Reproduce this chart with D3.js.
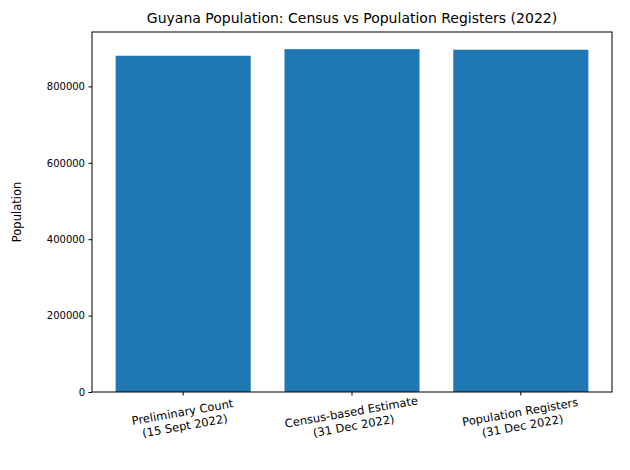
<!DOCTYPE html>
<html><head><meta charset="utf-8">
<script src="https://cdn.jsdelivr.net/npm/d3@7"></script>
<style>body{margin:0;background:#fff}text{font-family:"DejaVu Sans",sans-serif;}</style>
</head><body>
<svg id="c" width="630" height="470"></svg>
<script>
const categories = ["Preliminary Count\n(15 Sept 2022)", "Census-based Estimate\n(31 Dec 2022)", "Population Registers\n(31 Dec 2022)"];
const values = [880300, 897600, 896000];
const yTicks = [0, 200000, 400000, 600000, 800000];

const svg = d3.select("#c");
const L = 92, R = 612, T = 32, B = 392;
const x = d3.scaleBand().domain(categories).range([L, R]).paddingInner(0.2).paddingOuter(0.14);
const y = d3.scaleLinear().domain([0, d3.max(values) * 1.05]).range([B, T]);

svg.selectAll("rect.bar").data(values).enter().append("rect")
  .attr("x", (d, i) => x(categories[i])).attr("width", x.bandwidth())
  .attr("y", d => y(d)).attr("height", d => B - y(d)).attr("fill", "#1f77b4");

const ya = svg.append("g").attr("transform", `translate(${L},0)`)
  .call(d3.axisLeft(y).tickValues(yTicks).tickFormat(d3.format("d")).tickSizeOuter(0).tickSize(3.5).tickPadding(3.5));
ya.select(".domain").remove();
ya.selectAll("text").style("font-size", "10px").attr("fill", "#000");

const xa = svg.append("g").attr("transform", `translate(0,${B})`)
  .call(d3.axisBottom(x).tickSizeOuter(0).tickSize(3.5).tickFormat(""));
xa.select(".domain").remove();
categories.forEach(c => {
  const cx = x(c) + x.bandwidth() / 2;
  const t = svg.append("text").attr("transform", `translate(${cx},${B + 24}) rotate(-10)`)
    .attr("text-anchor", "middle").style("font-size", "11.5px");
  c.split("\n").forEach((s, i) => t.append("tspan").attr("x", 0).attr("dy", i ? 14 : 0).text(s));
});

svg.append("rect").attr("x", L).attr("y", T).attr("width", R - L).attr("height", B - T)
  .attr("fill", "none").attr("stroke", "#000").attr("stroke-width", 1);

svg.append("text").attr("x", (L + R) / 2).attr("y", 23).attr("text-anchor", "middle")
  .style("font-size", "14px").text("Guyana Population: Census vs Population Registers (2022)");
svg.append("text").attr("transform", `translate(21,${(T + B) / 2}) rotate(-90)`)
  .attr("text-anchor", "middle").style("font-size", "11.5px").text("Population");
</script>
</body></html>
